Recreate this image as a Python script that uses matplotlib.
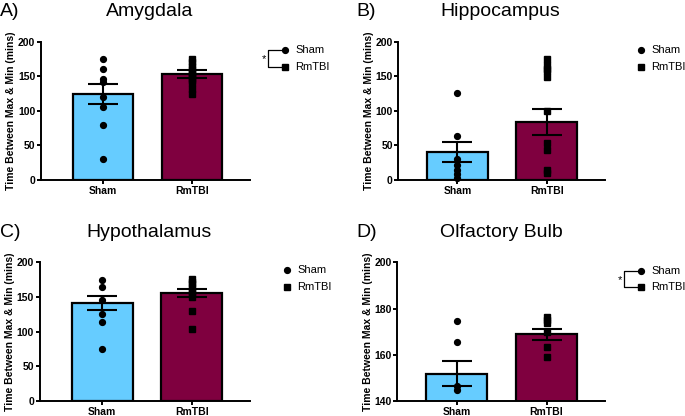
import matplotlib
matplotlib.use("Agg")
import matplotlib.pyplot as plt
from matplotlib.lines import Line2D

plt.rcParams['font.family'] = ['Liberation Sans', 'DejaVu Sans']

groups = ["Sham", "RmTBI"]
panel_letters = ["A)", "B)", "C)", "D)"]
panel_titles = ["Amygdala", "Hippocampus", "Hypothalamus", "Olfactory Bulb"]

amyg_mean = [124, 153]
amyg_sem = [14.7, 6]
hipp_mean = [40.5, 83.5]
hipp_sem = [15, 19]
hypo_mean = [141, 155.5]
hypo_sem = [10.5, 5.5]
olf_mean = [151.8, 168.8]
olf_sem = [5.3, 2.3]

# individual points
amyg_sham = [174.5, 160, 146, 142, 119.5, 105, 79.5, 30]
amyg_rmtbi = [175, 170, 165, 160, 156, 153, 150, 148, 145, 140, 132, 124]
hipp_sham = [126, 64, 30, 22, 15, 8, 3]
hipp_rmtbi = [174.5, 167, 161, 157, 148.5, 100, 54, 44, 14.5, 9.6]
hypo_sham = [174.5, 164.4, 145.7, 125, 114.4, 74.5]
hypo_rmtbi = [176, 172, 168, 163, 158, 154, 150, 130, 104]
olf_sham = [174.5, 165.4, 146.7, 144.9]
olf_rmtbi = [176.3, 174.9, 173.7, 170, 163.4, 159]

means = [amyg_mean, hipp_mean, hypo_mean, olf_mean]
sems = [amyg_sem, hipp_sem, hypo_sem, olf_sem]
points = [(amyg_sham, amyg_rmtbi), (hipp_sham, hipp_rmtbi),
          (hypo_sham, hypo_rmtbi), (olf_sham, olf_rmtbi)]
ylims = [(0, 200), (0, 200), (0, 200), (140, 200)]
yticks = [[0, 50, 100, 150, 200]] * 3 + [[140, 160, 180, 200]]
significant = [True, False, False, True]

W, H = 685, 416
fig = plt.figure(figsize=(W / 100, H / 100), dpi=100)

# axes boxes in pixels: left, right, top, bottom ; x-limits
boxes = [(40.7, 250, 41.7, 180, (-0.70, 1.65)),
         (398.3, 605, 41.7, 180, (-0.66, 1.65)),
         (39.5, 250, 262.3, 401, (-0.70, 1.65)),
         (397.3, 605, 262.3, 401, (-0.66, 1.65))]
title_pos = [(150, 16), (500, 16), (148.5, 237), (501, 237)]
letter_pos = [(0, 16), (356, 16), (0, 237), (356, 237)]
legend_pos = [(285, 50, 67), (641, 50, 67), (287, 270, 287), (641, 270.5, 287)]

colors = ["#66CCFF", "#7F003F"]
markers = ["o", "s"]

def fx(x):
    return x / W

def fy(y):
    return 1 - y / H

for i in range(4):
    l, r, t, b, xl = boxes[i]
    ax = fig.add_axes([fx(l), fy(b), fx(r - l), (b - t) / H])
    x = [0, 1]
    ax.bar(x, means[i], width=0.68, color=colors, edgecolor="black",
           linewidth=1.6, zorder=2)
    for j in range(2):
        pts = points[i][j]
        ax.plot([x[j]] * len(pts), pts, linestyle="none", marker=markers[j],
                color="black", markersize=4.2 if j == 0 else 4.0, zorder=3,
                clip_on=False)
        ax.errorbar(x[j], means[i][j], yerr=sems[i][j], color="black",
                    capsize=11, elinewidth=1.5, capthick=1.5, zorder=4)
    ax.set_xlim(*xl)
    ax.set_ylim(*ylims[i])
    ax.set_yticks(yticks[i])
    ax.set_xticks(x)
    ax.set_xticklabels(groups, fontsize=7.5, fontweight="bold")
    for lab in ax.get_yticklabels():
        lab.set_fontweight("bold")
        lab.set_fontsize(7.5)
    ax.spines["top"].set_visible(False)
    ax.spines["right"].set_visible(False)
    ax.spines["left"].set_linewidth(1.4)
    ax.spines["bottom"].set_linewidth(1.4)
    ax.tick_params(axis="y", length=3, width=1.4, pad=1)
    ax.tick_params(axis="x", length=3, width=1.4, pad=1)
    ax.set_ylabel("Time Between Max & Min (mins)", fontsize=7.5,
                  fontweight="bold")
    ax.yaxis.set_label_coords(-24.5 / (r - l), 0.5)

    tx, ty = title_pos[i]
    fig.text(fx(tx), fy(ty), panel_titles[i], fontsize=14, ha="center",
             va="baseline")
    lx, ly = letter_pos[i]
    fig.text(fx(lx), fy(ly), panel_letters[i], fontsize=14, ha="left",
             va="baseline")

    # legend
    mx, y1, y2 = legend_pos[i]
    fig.add_artist(Line2D([fx(mx)], [fy(y1)], marker="o", color="black",
                          markersize=4.2, linestyle="none"))
    fig.add_artist(Line2D([fx(mx)], [fy(y2)], marker="s", color="black",
                          markersize=4.0, linestyle="none"))
    fig.text(fx(mx + 10), fy(y1), "Sham", fontsize=8, va="center", ha="left")
    fig.text(fx(mx + 10), fy(y2), "RmTBI", fontsize=8, va="center", ha="left")
    if significant[i]:
        bx = mx - 17
        fig.add_artist(Line2D([fx(mx - 3), fx(bx), fx(bx), fx(mx - 3)],
                              [fy(y1), fy(y1), fy(y2), fy(y2)],
                              color="black", linewidth=0.9))
        fig.text(fx(bx - 2), fy((y1 + y2) / 2 + 1), "*", fontsize=8,
                 ha="right", va="center")

fig.savefig("out.png", dpi=100)
